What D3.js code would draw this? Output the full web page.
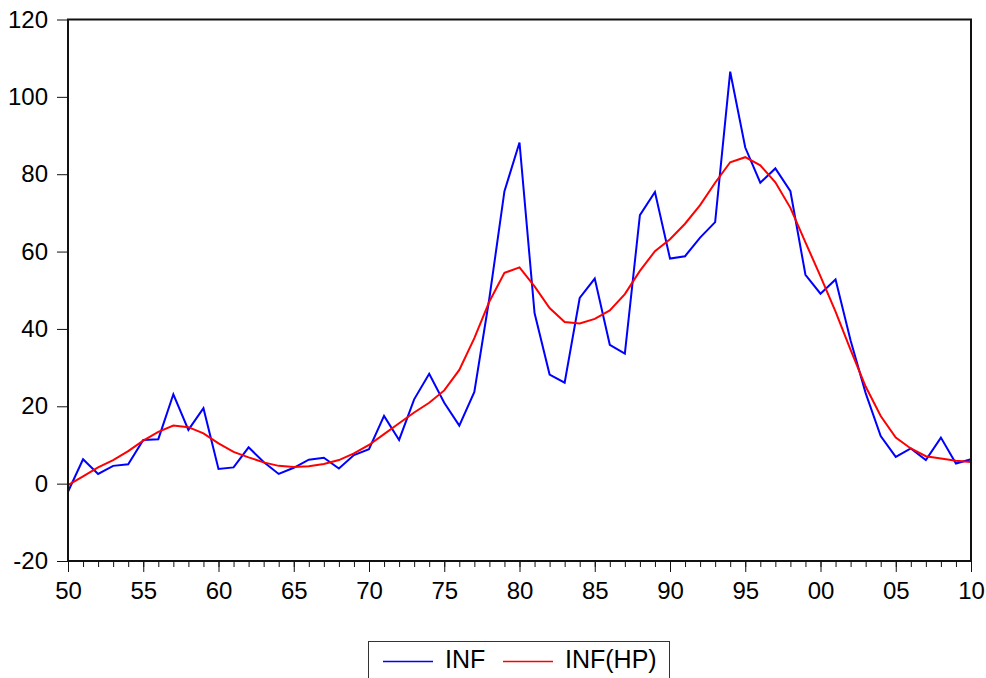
<!DOCTYPE html>
<html>
<head>
<meta charset="utf-8">
<script src="https://cdn.jsdelivr.net/npm/d3@7"></script>
<style>
  body { margin: 0; background: #fff; }
  svg { display: block; font-family: "Liberation Sans", Arial, sans-serif; }
</style>
</head>
<body>
<svg id="chart" width="986" height="678"></svg>
<script>
// years 1950..2010
var years = d3.range(1950, 2011);

// inflation, annual
var inf = [
  -2.1, 6.3, 2.5, 4.6, 5.0, 11.3, 11.5, 23.1, 13.9, 19.5,
  3.8, 4.2, 9.4, 5.6, 2.5, 4.1, 6.2, 6.7, 3.9, 7.4,
  8.9, 17.5, 11.3, 21.8, 28.4, 20.9, 15.0, 23.7, 48.0, 75.6,
  88.2, 44.1, 28.2, 26.1, 48.0, 53.0, 35.9, 33.6, 69.4, 75.4,
  58.2, 58.8, 63.6, 67.6, 106.5, 86.9, 77.8, 81.5, 75.6, 54.0,
  49.1, 52.8, 37.0, 23.4, 12.3, 6.9, 9.1, 6.1, 11.9, 5.2,
  6.3
];

// Hodrick-Prescott trend
var infHP = [
  -0.4, 1.9, 4.2, 6.1, 8.4, 11.1, 13.4, 15.0, 14.6, 13.0,
  10.4, 8.2, 6.8, 5.5, 4.6, 4.3, 4.5, 5.1, 6.1, 7.8,
  10.0, 12.8, 15.6, 18.4, 20.9, 24.1, 29.4, 37.6, 47.1, 54.5,
  55.9, 51.0, 45.4, 41.8, 41.4, 42.6, 44.8, 49.0, 55.0, 60.1,
  63.2, 67.2, 72.0, 77.8, 83.1, 84.4, 82.3, 77.9, 71.3, 62.4,
  53.6, 44.5, 34.6, 25.1, 17.5, 11.9, 9.1, 7.1, 6.5, 5.9,
  5.6
];

var yTicks = [-20, 0, 20, 40, 60, 80, 100, 120];
var majorYears = d3.range(1950, 2011, 5);

var svg = d3.select("#chart");

var plotLeft = 68, plotRight = 971, plotTop = 19.5, plotBottom = 561;

var x = d3.scaleLinear().domain([1950, 2010]).range([plotLeft, plotRight]);
var y = d3.scaleLinear().domain([-20, 120]).range([plotBottom, plotTop]);

// minor ticks every year
svg.append("g")
    .attr("transform", "translate(0," + plotBottom + ")")
    .call(d3.axisBottom(x).tickValues(years).tickSize(6).tickFormat(""))
    .call(g => g.select(".domain").remove())
    .call(g => g.selectAll("line").attr("stroke", "#111"));

// major ticks every 5 years
svg.append("g")
    .attr("transform", "translate(0," + plotBottom + ")")
    .call(d3.axisBottom(x).tickValues(majorYears).tickSize(11).tickPadding(10)
        .tickFormat(d => String(d % 100).padStart(2, "0")))
    .call(g => g.select(".domain").remove())
    .call(g => g.selectAll("line").attr("stroke", "#111"))
    .call(g => g.selectAll("text").attr("fill", "#000").style("font-size", "24px"));

svg.append("g")
    .attr("transform", "translate(" + plotLeft + ",0)")
    .call(d3.axisLeft(y).tickValues(yTicks).tickSize(11).tickPadding(9)
        .tickFormat(d => String(d)))
    .call(g => g.select(".domain").remove())
    .call(g => g.selectAll("line").attr("stroke", "#111"))
    .call(g => g.selectAll("text").attr("fill", "#000").style("font-size", "24px"));

var line = d3.line()
    .x((d, i) => x(years[i]))
    .y(d => y(d));

svg.append("path")
    .datum(inf)
    .attr("d", line)
    .attr("fill", "none")
    .attr("stroke", "#0000ff")
    .attr("stroke-width", 2);

svg.append("path")
    .datum(infHP)
    .attr("d", line)
    .attr("fill", "none")
    .attr("stroke", "#ff0000")
    .attr("stroke-width", 2);

// plot frame
svg.append("rect")
    .attr("x", plotLeft).attr("y", plotTop)
    .attr("width", plotRight - plotLeft).attr("height", plotBottom - plotTop)
    .attr("fill", "none")
    .attr("stroke", "#111")
    .attr("stroke-width", 2);

// legend
var legend = svg.append("g");
legend.append("rect")
    .attr("x", 368.5).attr("y", 641.5)
    .attr("width", 301).attr("height", 50)
    .attr("fill", "#fff")
    .attr("stroke", "#333")
    .attr("stroke-width", 1);

var items = [
  { name: "INF", color: "#0000ff", x0: 383 },
  { name: "INF(HP)", color: "#ff0000", x0: 503 }
];
items.forEach(function (it) {
  legend.append("line")
      .attr("x1", it.x0).attr("x2", it.x0 + 50)
      .attr("y1", 661.5).attr("y2", 661.5)
      .attr("stroke", it.color)
      .attr("stroke-width", 1.5);
  legend.append("text")
      .attr("x", it.x0 + 62).attr("y", 668)
      .style("font-size", "25px")
      .text(it.name);
});
</script>
</body>
</html>
